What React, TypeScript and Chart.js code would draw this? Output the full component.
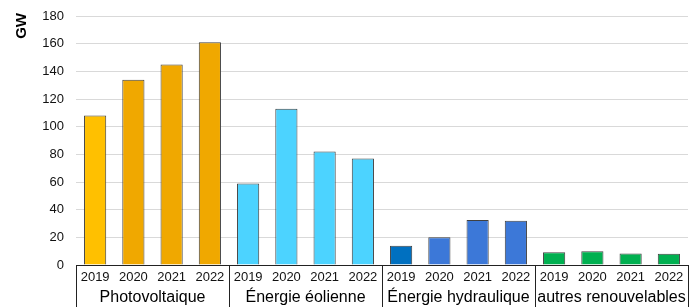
import React, { useEffect, useRef } from "react";
import { Chart, registerables } from "chart.js";

Chart.register(...registerables);

const years = ["2019", "2020", "2021", "2022"];
const groups = ["Photovoltaique", "Énergie éolienne", "Énergie hydraulique", "autres renouvelables"];
const photovoltaique = [108, 134, 145, 161];
const eolienne = [59, 113, 82, 77];
const hydraulique = [14, 20, 32.5, 32];
const autres = [9.2, 9.9, 8.4, 8.2];
const yTicks = [0, 20, 40, 60, 80, 100, 120, 140, 160, 180];
const yTitle = "GW";

const pvColors = ["#FFC000", "#F0A800", "#F0A800", "#F0A800"];
const eoColors = ["#4CD3FF", "#4CD3FF", "#4CD3FF", "#4CD3FF"];
const hyColors = ["#0070C0", "#3C78D8", "#3C78D8", "#3C78D8"];
const auColors = ["#00B050", "#00B050", "#00B050", "#00B050"];

const FONT = "'Liberation Sans', Arial, sans-serif";

const groupPlugin = {
  id: "groupPlugin",
  afterDraw(chart: any) {
    const ctx = chart.ctx;
    const x = chart.scales.x;
    const area = chart.chartArea;
    const n = years.length;
    const step = (area.right - area.left) / (groups.length * n);
    ctx.save();
    ctx.strokeStyle = "#222";
    ctx.lineWidth = 1;
    for (let g = 0; g <= groups.length; g++) {
      const px = Math.round(area.left + g * n * step) + 0.5;
      ctx.beginPath();
      ctx.moveTo(px, area.bottom);
      ctx.lineTo(px, chart.height);
      ctx.stroke();
    }
    ctx.fillStyle = "#000";
    ctx.font = "16px " + FONT;
    ctx.textAlign = "center";
    ctx.textBaseline = "middle";
    for (let g = 0; g < groups.length; g++) {
      const a = x.getPixelForValue(g * n);
      const b = x.getPixelForValue(g * n + n - 1);
      ctx.fillText(groups[g], (a + b) / 2, area.bottom + 33);
    }
    // y-axis title
    ctx.translate(22, area.top - 3);
    ctx.rotate(-Math.PI / 2);
    ctx.font = "bold 15px " + FONT;
    ctx.textAlign = "right";
    ctx.fillText(yTitle, 0, 0);
    ctx.restore();
  },
};

export default function App() {
  const ref = useRef<HTMLCanvasElement>(null);
  useEffect(() => {
    document.body.style.margin = "0";
    const labels: string[] = [];
    groups.forEach(() => years.forEach((y) => labels.push(y)));
    const data = [...photovoltaique, ...eolienne, ...hydraulique, ...autres];
    const colors = [...pvColors, ...eoColors, ...hyColors, ...auColors];
    const chart = new Chart(ref.current!, {
      type: "bar",
      data: {
        labels,
        datasets: [
          {
            data,
            backgroundColor: colors,
            borderColor: "#404040",
            borderWidth: 1,
            categoryPercentage: 1,
            barPercentage: 0.58,
          },
        ],
      },
      plugins: [groupPlugin],
      options: {
        animation: false,
        responsive: false,
        maintainAspectRatio: false,
        layout: { padding: { left: 0, right: 10, top: 16, bottom: 0 } },
        plugins: { legend: { display: false }, tooltip: { enabled: false } },
        scales: {
          x: {
            grid: { display: false, drawTicks: false },
            border: { display: true, color: "#222", width: 1 },
            ticks: {
              color: "#111",
              font: { family: FONT, size: 13 },
              padding: 5,
              maxRotation: 0,
              autoSkip: false,
            },
            afterFit(scale: any) {
              scale.height = 42;
            },
          },
          y: {
            min: 0,
            max: 180,
            afterBuildTicks(scale: any) {
              scale.ticks = yTicks.map((v) => ({ value: v }));
            },
            grid: { color: "#D9D9D9", drawTicks: true, tickLength: 9, tickColor: "rgba(0,0,0,0)", lineWidth: 1 },
            border: { display: false },
            ticks: {
              color: "#111",
              font: { family: FONT, size: 13 },
              padding: 3,
            },
            afterFit(scale: any) {
              scale.width = 76;
            },
          },
        },
      },
    } as any);
    return () => chart.destroy();
  }, []);
  return (
    <div style={{ width: 698, height: 307 }}>
      <canvas ref={ref} width={698} height={307} style={{ display: "block", width: 698, height: 307 }} />
    </div>
  );
}
